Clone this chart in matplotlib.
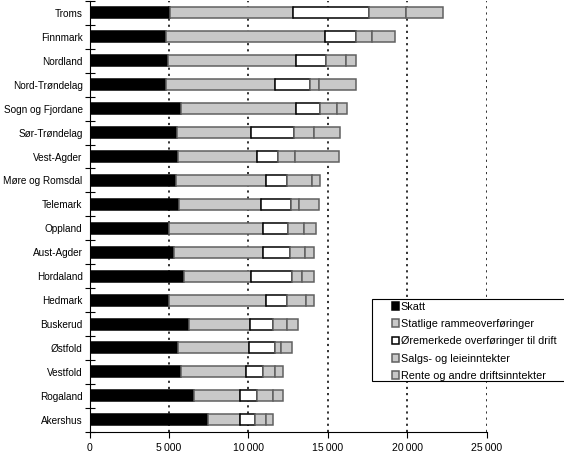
import numpy as np
import matplotlib
matplotlib.use("Agg")
import matplotlib.pyplot as plt
from matplotlib.patches import Rectangle

plt.rcParams['font.family'] = ['Liberation Sans', 'DejaVu Sans']
plt.rcParams['font.size'] = 8

fylker = ["Troms", "Finnmark", "Nordland", "Nord-Trøndelag", "Sogn og Fjordane",
          "Sør-Trøndelag", "Vest-Agder", "Møre og Romsdal", "Telemark", "Oppland",
          "Aust-Agder", "Hordaland", "Hedmark", "Buskerud", "Østfold", "Vestfold",
          "Rogaland", "Akershus"]

skatt     = [5080, 4780, 4910, 4780, 5730, 5480, 5580, 5430, 5640, 5010, 5290, 5950, 4970, 6230, 5540, 5750, 6580, 7460]
ramme     = [7720, 10010, 8100, 6910, 7240, 4660, 4980, 5640, 5130, 5910, 5650, 4190, 6100, 3870, 4480, 4080, 2890, 2010]
oremerket = [4770, 1950, 1860, 2180, 1530, 2720, 1300, 1380, 1930, 1570, 1700, 2600, 1350, 1440, 1670, 1110, 1070, 970]
salg      = [2310, 1040, 1260, 560, 1060, 1260, 1050, 1530, 480, 1000, 940, 650, 1220, 880, 380, 730, 1000, 630]
rente     = [2380, 1410, 650, 2350, 660, 1660, 2780, 520, 1230, 740, 540, 730, 480, 690, 670, 500, 630, 470]

serier = ["Skatt", "Statlige rammeoverføringer", "Øremerkede overføringer til drift",
          "Salgs- og leieinntekter", "Rente og andre driftsinntekter"]
xticks = [0, 5000, 10000, 15000, 20000, 25000]

grey = "#c8c8c8"
faces = ["black", grey, "white", grey, grey]
edges = ["black", "#606060", "black", "#606060", "#606060"]

fig = plt.figure(figsize=(5.64, 4.53), dpi=100)
W, H = 564, 453
ax = fig.add_axes([89.5 / W, 1 - 431.7 / H, (487 - 89.5) / W, (431.7 - 1) / H])

y = np.arange(len(fylker))
left = np.zeros(len(fylker))
handles = []
for vals, name, fc, ec in zip([skatt, ramme, oremerket, salg, rente], serier, faces, edges):
    b = ax.barh(y, vals, left=left, height=0.46, color=fc, edgecolor=ec,
                linewidth=1.1, label=name, zorder=3)
    handles.append(b)
    left = left + np.array(vals)

ax.set_ylim(len(fylker) - 0.5, -0.5)
ax.set_xlim(0, 25000)

for xv in xticks[1:]:
    ax.axvline(xv, color="#222222", linestyle=(0, (1.2, 2.2)), linewidth=1.3, zorder=1)

ax.set_yticks(y)
ax.set_yticklabels(fylker, fontsize=7.2)
ax.tick_params(axis="y", length=0, pad=5)
ax.set_yticks(np.arange(len(fylker) + 1) - 0.5, minor=True)
ax.tick_params(axis="y", which="minor", direction="inout", length=7, width=0.8)

ax.set_xticks(xticks)
ax.set_xticklabels([f"{v:,}".replace(",", "\u2009") for v in xticks], fontsize=7.6)
ax.tick_params(axis="x", direction="out", length=4, width=0.8, pad=4)

for s in ["top", "right"]:
    ax.spines[s].set_visible(False)
for s in ["left", "bottom"]:
    ax.spines[s].set_linewidth(0.8)

box = Rectangle((372 / W, 1 - 381 / H), 196 / W, 82 / H, transform=fig.transFigure,
                facecolor="white", edgecolor="black", linewidth=0.8, zorder=5)
fig.patches.append(box)

leg = fig.legend(handles=handles, labels=serier, loc="upper left",
                 bbox_to_anchor=(384 / W, 1 - 294 / H), frameon=False,
                 handlelength=0.7, handleheight=0.7, handletextpad=0.15,
                 labelspacing=0.68, borderpad=0.2, fontsize=7.8)
leg.set_zorder(6)

fig.savefig("out.png", dpi=100)
